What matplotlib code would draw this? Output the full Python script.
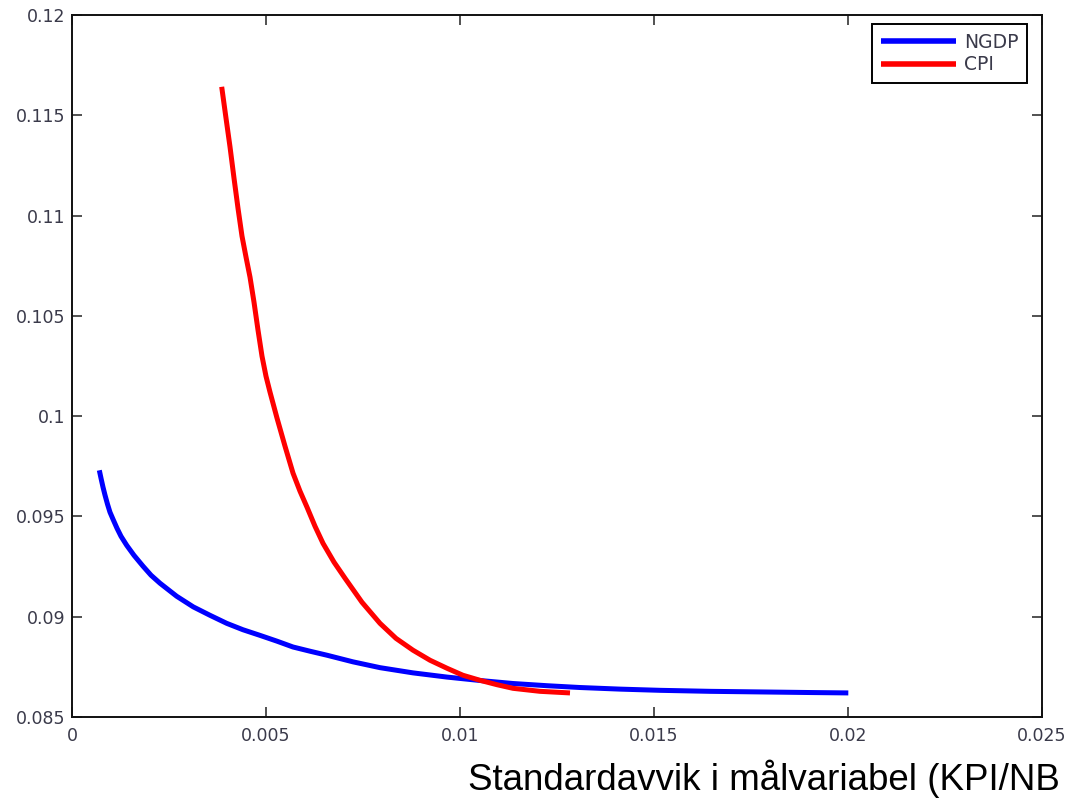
import matplotlib
matplotlib.use("Agg")
import matplotlib.pyplot as plt

# Data
ngdp_x = [0.000704, 0.000747, 0.000799, 0.000851, 0.000915, 0.000979, 0.001057,
          0.001160, 0.001263, 0.001410, 0.001598, 0.001830, 0.002036, 0.002268,
          0.002698, 0.003126, 0.003557, 0.003987, 0.004407, 0.004845, 0.005284,
          0.005696, 0.006134, 0.006572, 0.007242, 0.007938, 0.008789, 0.009665,
          0.010515, 0.011366, 0.012242, 0.013093, 0.014124, 0.015155, 0.016443,
          0.017732, 0.019021, 0.020008]
ngdp_y = [0.09730, 0.09691, 0.09646, 0.09606, 0.09561, 0.09521, 0.09486,
          0.09441, 0.09401, 0.09356, 0.09306, 0.09252, 0.09207, 0.09167,
          0.09102, 0.09049, 0.09007, 0.08967, 0.08935, 0.08907, 0.08878,
          0.08849, 0.08828, 0.08808, 0.08775, 0.08746, 0.08720, 0.08699,
          0.08682, 0.08667, 0.08656, 0.08647, 0.08639, 0.08633, 0.08628,
          0.08625, 0.08622, 0.08620]

cpi_x = [0.003858, 0.003969, 0.004072, 0.004175, 0.004278, 0.004381, 0.004485,
         0.004588, 0.004691, 0.004794, 0.004897, 0.005000, 0.005103, 0.005284,
         0.005490, 0.005696, 0.005876, 0.006057, 0.006263, 0.006469, 0.006753,
         0.007036, 0.007474, 0.007938, 0.008351, 0.008789, 0.009227, 0.009665,
         0.010077, 0.010515, 0.010954, 0.011366, 0.012062, 0.012835]
cpi_y = [0.11642, 0.11486, 0.11343, 0.11187, 0.11037, 0.10898, 0.10793,
         0.10693, 0.10568, 0.10429, 0.10299, 0.10199, 0.10120, 0.09990,
         0.09850, 0.09716, 0.09626, 0.09546, 0.09451, 0.09366, 0.09272,
         0.09192, 0.09072, 0.08967, 0.08892, 0.08833, 0.08783, 0.08743,
         0.08708, 0.08683, 0.08661, 0.08643, 0.08628, 0.08620]

x_ticks = [0, 0.005, 0.01, 0.015, 0.02, 0.025]
x_ticklabels = ["0", "0.005", "0.01", "0.015", "0.02", "0.025"]
y_ticks = [0.085, 0.09, 0.095, 0.1, 0.105, 0.11, 0.115, 0.12]
y_ticklabels = ["0.085", "0.09", "0.095", "0.1", "0.105", "0.11", "0.115", "0.12"]
series_labels = ["NGDP", "CPI"]
xlabel_text = "Standardavvik i målvariabel (KPI/NB"

plt.rcParams['font.family'] = ['DejaVu Sans']

fig = plt.figure(figsize=(10.66, 7.98), dpi=100)
ax = fig.add_axes([72/1066, 1-717/798, 970/1066, 702/798])

ax.plot(ngdp_x, ngdp_y, color='#0000FF', lw=3.6, solid_capstyle='butt',
        solid_joinstyle='round', label=series_labels[0])
ax.plot(cpi_x, cpi_y, color='#FF0000', lw=3.6, solid_capstyle='butt',
        solid_joinstyle='round', label=series_labels[1])

ax.set_xlim(0, 0.025)
ax.set_ylim(0.085, 0.12)
ax.set_xticks(x_ticks)
ax.set_xticklabels(x_ticklabels)
ax.set_yticks(y_ticks)
ax.set_yticklabels(y_ticklabels)
ax.tick_params(direction='in', length=7, width=1.1, color='#222222',
               top=True, right=True, labelsize=12.5, labelcolor='#3a3a4a', pad=5)
ax.tick_params(axis='x', pad=7.5)
for s in ax.spines.values():
    s.set_linewidth(1.4)
    s.set_color('#111111')

leg = ax.legend(loc='upper right', bbox_to_anchor=(0.9845, 0.987), borderaxespad=0,
                fontsize=13.5, handlelength=4.0, handletextpad=0.45,
                labelspacing=0.2, borderpad=0.45, fancybox=False,
                framealpha=1, edgecolor='black')
leg.get_frame().set_linewidth(1.4)
for t in leg.get_texts():
    t.set_color('#3a3a4a')
for l in leg.get_lines():
    l.set_linewidth(4)

fig.text(468/1066, 1-790/798, xlabel_text, fontsize=26.5,
         family=['Liberation Sans', 'DejaVu Sans'],
         ha='left', va='baseline', color='black')

fig.savefig('out.png', dpi=100)
